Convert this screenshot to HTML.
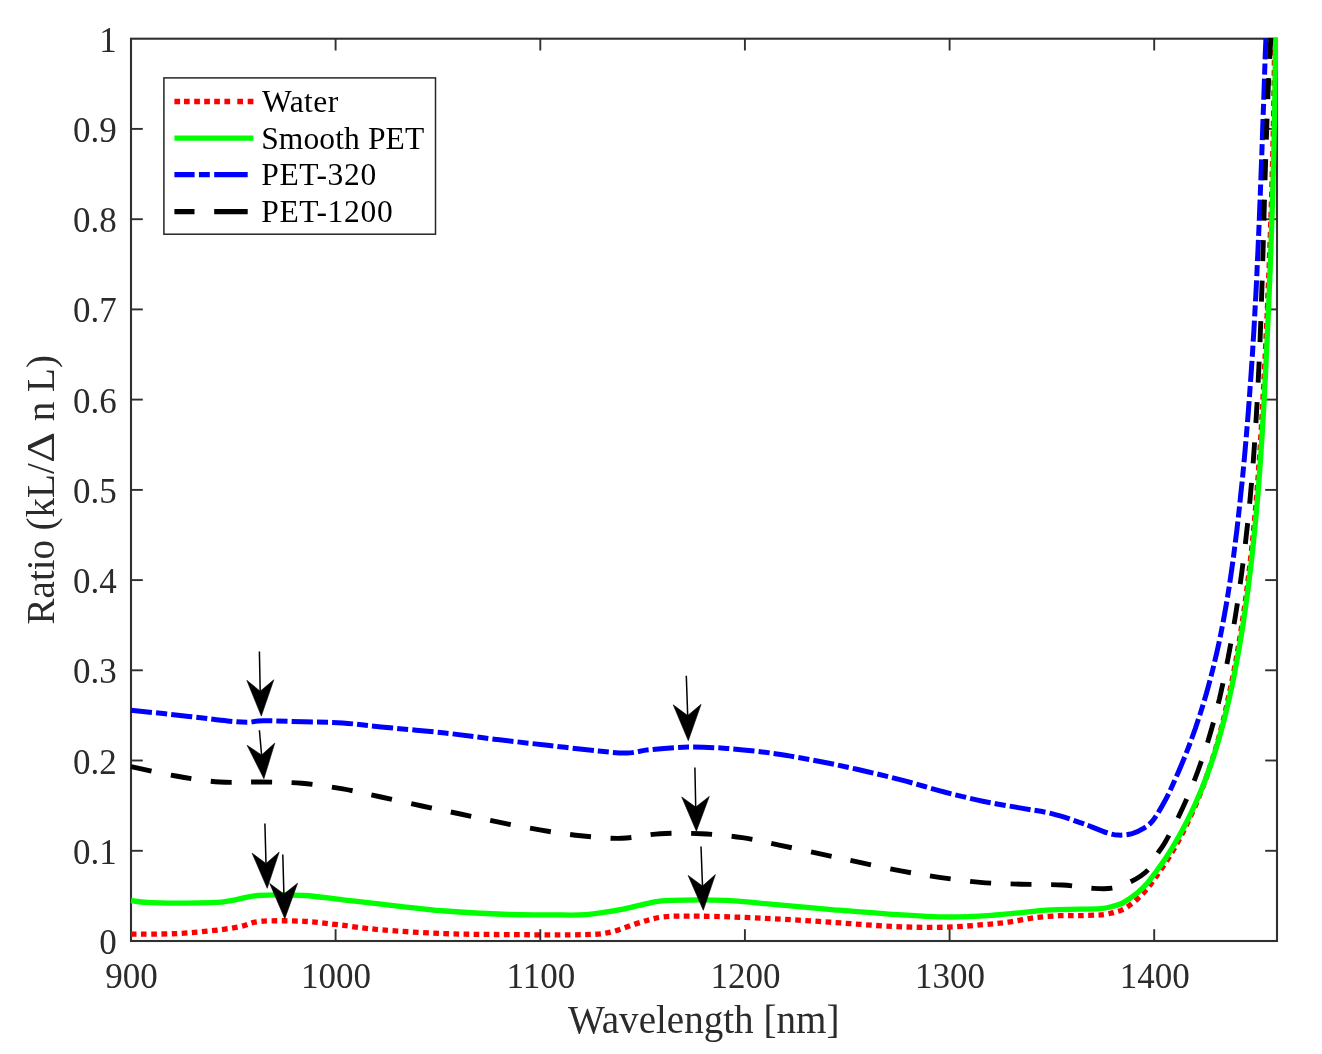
<!DOCTYPE html>
<html><head><meta charset="utf-8"><title>Ratio vs Wavelength</title>
<style>
html,body{margin:0;padding:0;background:#fff;}
body{width:1322px;height:1054px;overflow:hidden;}
svg{display:block;will-change:transform;}
text{font-family:"Liberation Serif",serif;fill:#2b2b2b;}
</style></head><body>
<svg width="1322" height="1054" viewBox="0 0 1322 1054">
<rect x="0" y="0" width="1322" height="1054" fill="#fff"/>
<defs><clipPath id="pc"><rect x="130.0" y="37.7" width="1148.0" height="904.3"/></clipPath></defs>
<rect x="131.0" y="38.7" width="1146.0" height="902.3" stroke="#303030" stroke-width="2.1" fill="none"/>
<g stroke="#303030" stroke-width="1.9" fill="none" stroke-linecap="butt">
<path d="M335.6 38.7v11.8"/>
<path d="M540.3 38.7v11.8"/>
<path d="M744.9 38.7v11.8"/>
<path d="M949.6 38.7v11.8"/>
<path d="M1154.2 38.7v11.8"/>
<path d="M1277.0 850.8h-11.8"/>
<path d="M1277.0 760.5h-11.8"/>
<path d="M1277.0 670.3h-11.8"/>
<path d="M1277.0 580.1h-11.8"/>
<path d="M1277.0 489.9h-11.8"/>
<path d="M1277.0 399.6h-11.8"/>
<path d="M1277.0 309.4h-11.8"/>
<path d="M1277.0 219.2h-11.8"/>
<path d="M1277.0 128.9h-11.8"/>
</g>
<g clip-path="url(#pc)" fill="none" stroke-linejoin="round">
<path d="M131.0 934.2C138.5 934.1 162.1 934.2 176.0 933.6C189.9 933.0 204.0 931.6 214.7 930.4C225.4 929.2 232.3 928.1 240.0 926.6C247.7 925.1 250.1 922.2 260.8 921.3C271.5 920.4 291.2 920.7 304.0 921.3C316.8 921.9 324.9 923.3 337.7 924.7C350.5 926.1 363.1 928.3 381.0 929.8C398.9 931.3 423.7 932.8 445.0 933.6C466.3 934.4 485.5 934.4 509.0 934.6C532.5 934.8 568.9 935.1 586.0 934.6C603.1 934.1 603.0 933.8 611.5 931.9C620.0 930.0 628.7 925.9 637.2 923.4C645.8 920.9 652.1 918.2 662.8 917.0C673.5 915.8 684.2 916.0 701.2 916.2C718.2 916.4 743.7 917.3 765.0 918.3C786.3 919.3 807.6 920.7 829.0 922.1C850.4 923.5 873.9 925.6 893.1 926.5C912.3 927.4 929.3 927.5 944.3 927.2C959.2 926.9 972.1 925.6 982.8 924.7C993.5 923.9 999.9 923.2 1008.4 922.1C1016.9 921.0 1025.5 918.9 1034.0 917.8C1042.5 916.7 1051.9 916.1 1059.6 915.7C1067.3 915.3 1073.8 915.7 1080.0 915.6C1086.2 915.5 1092.7 915.3 1097.0 915.1C1101.2 914.9 1102.9 914.7 1105.3 914.4C1107.6 914.1 1109.2 913.6 1110.9 913.2C1112.7 912.8 1114.1 912.4 1115.7 911.9C1117.4 911.5 1119.1 911.0 1120.8 910.4C1122.5 909.7 1124.4 908.8 1126.0 907.8C1127.6 906.9 1129.1 905.7 1130.5 904.6C1131.9 903.6 1133.2 902.5 1134.6 901.4C1136.0 900.2 1137.5 899.0 1138.8 897.6C1140.2 896.3 1141.5 894.8 1142.9 893.4C1144.3 891.9 1145.7 890.5 1147.0 888.9C1148.4 887.3 1149.8 885.4 1151.1 883.6C1152.5 881.8 1153.8 879.9 1155.2 877.9C1156.7 875.8 1158.2 873.6 1159.8 871.2C1161.5 868.8 1163.3 866.2 1165.1 863.5C1166.9 860.8 1168.7 857.9 1170.5 854.9C1172.3 851.9 1174.2 848.7 1175.9 845.6C1177.6 842.5 1179.3 839.4 1180.9 836.4C1182.5 833.3 1184.0 830.2 1185.5 827.1C1187.0 824.1 1188.4 821.0 1189.8 818.0C1191.2 814.9 1192.6 811.9 1193.9 808.9C1195.3 805.8 1196.6 802.8 1197.8 799.8C1199.0 796.7 1200.2 793.7 1201.4 790.7C1202.6 787.6 1203.7 784.6 1204.8 781.6C1205.9 778.5 1206.9 775.5 1208.0 772.5C1209.0 769.5 1210.0 766.5 1211.0 763.5C1212.0 760.4 1212.9 757.4 1213.9 754.4C1214.8 751.4 1215.7 748.4 1216.6 745.4C1217.4 742.4 1218.3 739.4 1219.1 736.4C1219.9 733.4 1220.7 730.3 1221.5 727.3C1222.2 724.3 1223.0 721.3 1223.7 718.3C1224.4 715.3 1225.1 712.3 1225.8 709.3C1226.5 706.3 1227.1 703.3 1227.8 700.3C1228.5 697.3 1229.1 694.3 1229.8 691.3C1230.4 688.3 1231.1 685.3 1231.7 682.3C1232.3 679.3 1232.9 676.3 1233.5 673.3C1234.1 670.3 1234.6 667.3 1235.2 664.3C1235.8 661.3 1236.3 658.3 1236.8 655.3C1237.4 652.3 1237.9 649.3 1238.4 646.3C1238.9 643.3 1239.4 640.3 1239.9 637.3C1240.4 634.3 1240.9 631.3 1241.3 628.3C1241.8 625.3 1242.3 622.3 1242.7 619.3C1243.2 616.3 1243.6 613.3 1244.0 610.3C1244.5 607.4 1244.9 604.4 1245.3 601.4C1245.7 598.4 1246.1 595.4 1246.5 592.4C1246.9 589.4 1247.3 586.4 1247.7 583.4C1248.0 580.4 1248.4 577.4 1248.8 574.4C1249.1 571.4 1249.5 568.4 1249.8 565.4C1250.2 562.4 1250.5 559.4 1250.9 556.4C1251.2 553.4 1251.5 550.4 1251.8 547.4C1252.1 544.4 1252.5 541.4 1252.8 538.4C1253.1 535.4 1253.4 532.4 1253.6 529.4C1253.9 526.4 1254.2 523.4 1254.5 520.4C1254.8 517.4 1255.0 514.4 1255.3 511.4C1255.6 508.4 1255.8 505.4 1256.1 502.4C1256.3 499.4 1256.6 496.4 1256.8 493.4C1257.1 490.4 1257.3 487.4 1257.5 484.4C1257.8 481.4 1258.0 478.4 1258.2 475.4C1258.4 472.4 1258.6 469.4 1258.8 466.4C1259.1 463.4 1259.3 460.4 1259.5 457.4C1259.7 454.4 1259.9 451.4 1260.1 448.4C1260.3 445.4 1260.5 442.4 1260.6 439.4C1260.8 436.4 1261.0 433.4 1261.2 430.4C1261.4 427.4 1261.5 424.4 1261.7 421.4C1261.9 418.4 1262.1 415.4 1262.2 412.4C1262.4 409.4 1262.6 406.4 1262.7 403.4C1262.9 400.4 1263.0 397.4 1263.2 394.4C1263.4 391.4 1263.5 388.4 1263.7 385.4C1263.8 382.4 1264.0 379.4 1264.1 376.4C1264.3 373.4 1264.5 370.4 1264.6 367.4C1264.8 364.4 1264.9 361.4 1265.1 358.4C1265.2 355.4 1265.3 352.4 1265.5 349.4C1265.6 346.4 1265.8 343.4 1265.9 340.4C1266.1 337.4 1266.2 334.4 1266.3 331.4C1266.5 328.4 1266.6 325.4 1266.8 322.4C1266.9 319.4 1267.0 316.5 1267.2 313.5C1267.3 310.5 1267.4 307.5 1267.6 304.5C1267.7 301.5 1267.8 298.5 1267.9 295.5C1268.1 292.5 1268.2 289.5 1268.3 286.5C1268.5 283.5 1268.6 280.5 1268.7 277.5C1268.8 274.5 1268.9 271.5 1269.1 268.5C1269.2 265.5 1269.3 262.5 1269.4 259.5C1269.5 256.5 1269.6 253.5 1269.7 250.5C1269.9 247.5 1270.0 244.5 1270.1 241.5C1270.2 238.5 1270.3 235.5 1270.4 232.5C1270.5 229.5 1270.6 226.5 1270.7 223.5C1270.8 220.5 1270.9 217.5 1271.0 214.5C1271.1 211.5 1271.2 208.5 1271.3 205.5C1271.4 202.5 1271.5 199.5 1271.6 196.5C1271.7 193.5 1271.8 190.5 1271.8 187.5C1271.9 184.5 1272.0 181.5 1272.1 178.5C1272.2 175.5 1272.3 172.5 1272.3 169.5C1272.4 166.5 1272.5 163.5 1272.6 160.5C1272.7 157.5 1272.7 154.5 1272.8 151.5C1272.9 148.5 1272.9 145.5 1273.0 142.5C1273.1 139.5 1273.2 136.5 1273.2 133.5C1273.3 130.5 1273.3 127.5 1273.4 124.5C1273.5 121.5 1273.5 118.5 1273.6 115.5C1273.6 112.5 1273.7 109.5 1273.7 106.5C1273.8 103.5 1273.8 100.5 1273.9 97.5C1273.9 94.5 1274.0 91.5 1274.0 88.5C1274.1 85.5 1274.1 82.5 1274.2 79.5C1274.2 76.5 1274.2 73.5 1274.3 70.5C1274.3 67.5 1274.3 64.5 1274.4 61.5C1274.4 58.5 1274.4 55.5 1274.5 52.5C1274.5 49.5 1274.5 46.4 1274.5 43.3C1274.6 40.2 1274.6 36.7 1274.6 33.9C1274.6 31.2 1274.6 28.8 1274.6 26.7C1274.6 24.6 1274.6 22.5 1274.6 21.6" stroke="#ff0000" stroke-width="5.3" stroke-dasharray="5.65 4.48"/>
<path d="M131.0 900.5C134.3 900.9 137.1 902.2 150.6 902.6C164.1 903.0 197.9 903.2 212.0 902.7C226.1 902.2 227.3 901.0 235.0 899.8C242.7 898.6 246.5 896.2 258.0 895.5C269.5 894.8 289.9 894.8 304.0 895.5C318.1 896.2 330.0 898.4 342.8 899.8C355.6 901.2 364.0 902.2 381.0 904.1C398.0 906.0 423.7 909.3 445.0 911.0C466.3 912.7 491.5 913.9 509.0 914.5C526.5 915.1 537.2 914.8 550.0 914.8C562.8 914.8 573.6 915.6 586.0 914.6C598.4 913.6 613.7 910.8 624.4 908.8C635.1 906.8 642.3 904.3 650.0 902.9C657.7 901.5 657.7 900.7 670.5 900.3C683.3 899.9 711.0 899.7 726.8 900.3C742.5 900.9 748.0 902.2 765.0 903.7C782.0 905.2 807.6 907.5 829.0 909.3C850.4 911.1 873.0 913.1 893.1 914.4C913.2 915.7 932.4 916.9 949.5 917.0C966.6 917.1 979.4 916.1 995.6 915.0C1011.8 913.9 1032.7 911.1 1046.8 910.1C1060.9 909.1 1071.0 909.5 1080.0 909.2C1089.0 909.0 1095.6 909.0 1100.9 908.6C1106.2 908.2 1108.5 907.4 1111.8 906.6C1115.1 905.8 1118.0 905.1 1121.0 903.8C1124.0 902.5 1126.7 900.5 1129.5 898.6C1132.3 896.7 1135.2 894.6 1138.1 892.2C1140.9 889.8 1143.8 887.3 1146.6 884.1C1149.4 880.9 1151.9 877.4 1155.1 873.0C1158.3 868.6 1162.2 863.5 1165.8 858.0C1169.5 852.5 1173.4 846.0 1176.8 840.0C1180.3 834.0 1183.5 828.0 1186.6 822.0C1189.6 816.0 1192.5 810.0 1195.2 804.0C1197.9 798.0 1200.5 792.0 1202.9 786.0C1205.3 780.0 1207.5 774.0 1209.6 768.0C1211.7 762.0 1213.7 756.0 1215.6 750.0C1217.4 744.0 1219.2 738.0 1220.8 732.0C1222.5 726.0 1224.1 720.0 1225.6 714.0C1227.0 708.0 1228.4 702.0 1229.8 696.0C1231.1 690.0 1232.4 684.0 1233.6 678.0C1234.8 672.0 1235.9 666.0 1237.0 660.0C1238.1 654.0 1239.2 648.0 1240.2 642.0C1241.2 636.0 1242.1 630.0 1243.1 624.0C1244.0 618.0 1244.9 612.0 1245.7 606.0C1246.6 600.0 1247.4 594.0 1248.2 588.0C1248.9 582.0 1249.7 576.0 1250.4 570.0C1251.1 564.0 1251.8 558.0 1252.4 552.0C1253.1 546.0 1253.7 540.0 1254.3 534.0C1254.9 528.0 1255.5 522.0 1256.0 516.0C1256.6 510.0 1257.1 504.0 1257.6 498.0C1258.1 492.0 1258.6 486.0 1259.0 480.0C1259.5 474.0 1259.9 468.0 1260.3 462.0C1260.7 456.0 1261.1 450.0 1261.5 444.0C1261.9 438.0 1262.3 432.0 1262.6 426.0C1263.0 420.0 1263.3 414.0 1263.7 408.0C1264.0 402.0 1264.3 396.0 1264.6 390.0C1264.9 384.0 1265.3 378.0 1265.6 372.0C1265.9 366.0 1266.1 360.0 1266.4 354.0C1266.7 348.0 1267.0 342.0 1267.3 336.0C1267.6 330.0 1267.8 324.0 1268.1 318.0C1268.4 312.0 1268.6 306.0 1268.9 300.0C1269.1 294.0 1269.4 288.0 1269.6 282.0C1269.9 276.0 1270.1 270.0 1270.3 264.0C1270.5 258.0 1270.8 252.0 1271.0 246.0C1271.2 240.0 1271.4 234.0 1271.6 228.0C1271.8 222.0 1272.0 216.0 1272.2 210.0C1272.4 204.0 1272.6 198.0 1272.7 192.0C1272.9 186.0 1273.1 180.0 1273.2 174.0C1273.4 168.0 1273.5 162.0 1273.7 156.0C1273.8 150.0 1274.0 144.0 1274.1 138.0C1274.2 132.0 1274.3 126.0 1274.5 120.0C1274.6 114.0 1274.7 108.0 1274.8 102.0C1274.9 96.0 1275.0 90.0 1275.0 84.0C1275.1 78.0 1275.2 72.0 1275.3 66.0C1275.3 60.0 1275.4 54.0 1275.4 48.0C1275.5 42.0 1275.5 34.7 1275.5 30.0C1275.5 25.3 1275.5 21.7 1275.6 20.0" stroke="#00ff00" stroke-width="5.3"/>
<path d="M131.0 710.2C140.7 711.2 172.9 714.6 189.0 716.4C205.1 718.2 217.7 720.0 227.5 721.0C237.3 722.0 242.1 722.3 248.0 722.3C253.9 722.2 253.7 720.8 263.0 720.7C272.3 720.6 290.7 721.4 304.0 721.8C317.3 722.2 330.0 722.1 342.8 723.0C355.6 723.9 364.0 725.2 381.0 726.9C398.0 728.6 425.8 730.9 445.0 733.0C464.2 735.1 479.1 737.4 496.2 739.4C513.3 741.4 530.4 743.4 547.5 745.3C564.6 747.2 585.5 749.7 598.7 751.0C611.9 752.3 618.4 753.2 626.9 753.0C635.4 752.8 639.8 750.7 650.0 749.7C660.2 748.7 675.6 747.3 688.4 747.1C701.2 746.9 714.0 747.5 726.8 748.4C739.6 749.3 754.4 751.0 765.0 752.3C775.6 753.6 779.9 754.3 790.6 756.1C801.3 757.9 816.2 760.7 829.0 763.3C841.8 765.9 854.7 768.7 867.5 771.7C880.3 774.7 893.1 777.8 905.9 781.2C918.7 784.6 931.5 788.7 944.3 792.0C957.1 795.3 970.0 798.5 982.8 801.2C995.6 803.9 1010.5 806.2 1021.2 808.1C1031.9 810.0 1039.5 811.0 1046.8 812.5C1054.1 814.0 1059.5 815.7 1065.0 817.4C1070.5 819.1 1075.8 821.1 1080.0 822.6C1084.2 824.1 1086.1 824.6 1090.4 826.3C1094.8 827.9 1101.4 831.0 1106.1 832.5C1110.8 834.0 1114.2 834.9 1118.6 835.1C1122.9 835.3 1128.2 834.6 1132.2 833.6C1136.2 832.6 1139.1 831.1 1142.6 828.9C1146.1 826.7 1149.2 825.2 1153.0 820.4C1156.8 815.6 1161.9 806.4 1165.4 800.0C1168.9 793.6 1171.3 788.0 1174.0 782.0C1176.7 776.0 1179.3 770.0 1181.8 764.0C1184.3 758.0 1186.7 752.0 1189.0 746.0C1191.2 740.0 1193.4 734.0 1195.5 728.0C1197.5 722.0 1199.5 716.0 1201.4 710.0C1203.3 704.0 1205.1 698.0 1206.8 692.0C1208.5 686.0 1210.1 680.0 1211.6 674.0C1213.2 668.0 1214.6 662.0 1216.0 656.0C1217.4 650.0 1218.7 644.0 1220.0 638.0C1221.2 632.0 1222.4 626.0 1223.5 620.0C1224.6 614.0 1225.7 608.0 1226.7 602.0C1227.7 596.0 1228.7 590.0 1229.6 584.0C1230.5 578.0 1231.4 572.0 1232.2 566.0C1233.1 560.0 1233.9 554.0 1234.6 548.0C1235.4 542.0 1236.1 536.0 1236.9 530.0C1237.6 524.0 1238.2 518.0 1238.9 512.0C1239.6 506.0 1240.2 500.0 1240.8 494.0C1241.5 488.0 1242.1 482.0 1242.7 476.0C1243.3 470.0 1243.8 464.0 1244.4 458.0C1244.9 452.0 1245.5 446.0 1246.0 440.0C1246.5 434.0 1247.0 428.0 1247.5 422.0C1248.0 416.0 1248.5 410.0 1248.9 404.0C1249.4 398.0 1249.8 392.0 1250.2 386.0C1250.7 380.0 1251.1 374.0 1251.5 368.0C1251.9 362.0 1252.3 356.0 1252.7 350.0C1253.0 344.0 1253.4 338.0 1253.8 332.0C1254.1 326.0 1254.5 320.0 1254.8 314.0C1255.1 308.0 1255.4 302.0 1255.8 296.0C1256.1 290.0 1256.4 284.0 1256.7 278.0C1257.0 272.0 1257.2 266.0 1257.5 260.0C1257.8 254.0 1258.1 248.0 1258.3 242.0C1258.6 236.0 1258.9 230.0 1259.1 224.0C1259.4 218.0 1259.6 212.0 1259.8 206.0C1260.1 200.0 1260.3 194.0 1260.5 188.0C1260.8 182.0 1261.0 176.0 1261.2 170.0C1261.4 164.0 1261.7 158.0 1261.9 152.0C1262.1 146.0 1262.3 140.0 1262.5 134.0C1262.7 128.0 1262.9 122.0 1263.1 116.0C1263.4 110.0 1263.6 104.0 1263.8 98.0C1264.0 92.0 1264.2 86.0 1264.4 80.0C1264.6 74.0 1264.8 68.0 1265.0 62.0C1265.2 56.0 1265.4 50.0 1265.7 44.0C1265.9 38.0 1266.2 30.0 1266.3 26.0C1266.5 22.0 1266.5 21.0 1266.5 20.0" stroke="#0000ff" stroke-width="5.0" stroke-dasharray="21.1 4.1 11.05 4.1"/>
<path d="M131.0 766.6C138.5 768.2 161.2 773.4 176.0 776.0C190.8 778.6 205.7 781.0 219.8 782.0C233.9 783.0 247.1 781.8 260.8 782.0C274.5 782.2 288.1 782.1 301.8 783.3C315.5 784.4 329.6 786.6 342.8 788.9C356.0 791.2 367.8 794.1 381.0 797.0C394.2 799.9 408.8 803.2 422.0 806.0C435.2 808.8 447.6 811.3 460.4 814.0C473.2 816.7 485.6 819.6 498.8 822.2C512.0 824.9 526.1 827.6 539.8 829.9C553.5 832.2 567.1 834.4 580.8 835.8C594.5 837.2 608.6 838.6 621.8 838.3C635.0 837.9 647.0 834.5 660.2 833.7C673.4 832.9 687.5 833.1 701.2 833.7C714.9 834.4 729.0 835.7 742.2 837.6C755.4 839.5 767.2 842.5 780.4 845.3C793.6 848.1 808.2 851.4 821.4 854.2C834.6 857.1 846.6 859.6 859.8 862.4C873.0 865.2 887.6 868.4 900.8 870.9C914.0 873.4 926.0 875.4 939.2 877.3C952.4 879.2 966.5 881.2 980.2 882.4C993.9 883.5 1007.5 883.8 1021.2 884.2C1034.9 884.6 1050.5 884.3 1062.2 885.0C1073.9 885.7 1083.2 887.7 1091.5 888.2C1099.8 888.7 1105.4 889.2 1111.8 888.2C1118.2 887.2 1124.1 885.1 1130.1 882.1C1136.1 879.1 1143.2 874.9 1147.8 870.1C1152.4 865.3 1154.9 857.9 1157.7 853.4C1160.5 848.9 1162.0 847.7 1164.7 843.0C1167.5 838.3 1171.3 831.0 1174.4 825.0C1177.5 819.0 1180.3 813.0 1183.1 807.0C1185.8 801.0 1188.4 795.0 1190.9 789.0C1193.4 783.0 1195.7 777.0 1197.9 771.0C1200.1 765.0 1202.2 759.0 1204.2 753.0C1206.2 747.0 1208.1 741.0 1209.8 735.0C1211.6 729.0 1213.3 723.0 1214.9 717.0C1216.4 711.0 1217.9 705.0 1219.4 699.0C1220.8 693.0 1222.1 687.0 1223.4 681.0C1224.7 675.0 1225.9 669.0 1227.1 663.0C1228.3 657.0 1229.4 651.0 1230.5 645.0C1231.6 639.0 1232.6 633.0 1233.6 627.0C1234.6 621.0 1235.6 615.0 1236.5 609.0C1237.5 603.0 1238.4 597.0 1239.2 591.0C1240.1 585.0 1240.9 579.0 1241.7 573.0C1242.5 567.0 1243.3 561.0 1244.0 555.0C1244.8 549.0 1245.5 543.0 1246.1 537.0C1246.8 531.0 1247.5 525.0 1248.1 519.0C1248.7 513.0 1249.3 507.0 1249.9 501.0C1250.4 495.0 1251.0 489.0 1251.5 483.0C1252.0 477.0 1252.5 471.0 1253.0 465.0C1253.4 459.0 1253.9 453.0 1254.3 447.0C1254.7 441.0 1255.1 435.0 1255.5 429.0C1255.9 423.0 1256.3 417.0 1256.6 411.0C1257.0 405.0 1257.3 399.0 1257.6 393.0C1257.9 387.0 1258.2 381.0 1258.5 375.0C1258.8 369.0 1259.1 363.0 1259.4 357.0C1259.6 351.0 1259.9 345.0 1260.1 339.0C1260.3 333.0 1260.6 327.0 1260.8 321.0C1261.0 315.0 1261.2 309.0 1261.4 303.0C1261.6 297.0 1261.8 291.0 1262.0 285.0C1262.2 279.0 1262.4 273.0 1262.6 267.0C1262.7 261.0 1262.9 255.0 1263.1 249.0C1263.3 243.0 1263.4 237.0 1263.6 231.0C1263.8 225.0 1263.9 219.0 1264.1 213.0C1264.3 207.0 1264.4 201.0 1264.6 195.0C1264.8 189.0 1265.0 183.0 1265.1 177.0C1265.3 171.0 1265.5 165.0 1265.7 159.0C1265.9 153.0 1266.1 147.0 1266.3 141.0C1266.5 135.0 1266.7 129.0 1266.9 123.0C1267.1 117.0 1267.4 111.0 1267.6 105.0C1267.8 99.0 1268.1 93.0 1268.3 87.0C1268.6 81.0 1268.9 75.0 1269.2 69.0C1269.5 63.0 1269.8 57.0 1270.1 51.0C1270.4 45.0 1270.8 38.2 1271.1 33.0C1271.4 27.8 1271.7 22.2 1271.9 20.0" stroke="#000000" stroke-width="4.9" stroke-dasharray="21 19.5"/>
</g>
<g stroke="#303030" stroke-width="1.9" fill="none" stroke-linecap="butt">
<path d="M335.6 941.0v-11.8"/>
<path d="M540.3 941.0v-11.8"/>
<path d="M744.9 941.0v-11.8"/>
<path d="M949.6 941.0v-11.8"/>
<path d="M1154.2 941.0v-11.8"/>
<path d="M131.0 850.8h11.8"/>
<path d="M131.0 760.5h11.8"/>
<path d="M131.0 670.3h11.8"/>
<path d="M131.0 580.1h11.8"/>
<path d="M131.0 489.9h11.8"/>
<path d="M131.0 399.6h11.8"/>
<path d="M131.0 309.4h11.8"/>
<path d="M131.0 219.2h11.8"/>
<path d="M131.0 128.9h11.8"/>
</g>
<g stroke="#000" fill="#000" stroke-width="1.5" stroke-linejoin="miter">
<path d="M259.4 651.4L260.2 691.2" fill="none"/><path d="M261.3 716.1L246.8 680.3L260.2 691.2L273.8 679.8Z" stroke-width="0.6"/>
<path d="M259.4 730.3L261.6 755.0" fill="none"/><path d="M263.9 778.7L247.1 745.3L261.6 755.0L274.8 743.1Z" stroke-width="0.6"/>
<path d="M264.9 823.4L266.0 863.5" fill="none"/><path d="M267.2 888.3L252.1 853.2L266.0 863.5L279.2 852.1Z" stroke-width="0.6"/>
<path d="M282.8 854.6L283.9 894.0" fill="none"/><path d="M284.8 918.7L269.7 883.4L283.9 894.0L297.6 883.2Z" stroke-width="0.6"/>
<path d="M686.3 675.8L687.7 715.6" fill="none"/><path d="M688.3 740.7L673.2 704.8L687.7 715.6L701.1 704.3Z" stroke-width="0.6"/>
<path d="M694.9 767.6L695.7 807.1" fill="none"/><path d="M696.4 831.3L681.7 796.9L695.7 807.1L709.3 796.4Z" stroke-width="0.6"/>
<path d="M701.0 846.5L702.5 886.0" fill="none"/><path d="M703.3 910.3L688.1 875.4L702.5 886.0L715.4 874.6Z" stroke-width="0.6"/>
</g>
<g font-size="35px" text-anchor="middle">
<text transform="translate(131.5,988.0) scale(1,1.045)">900</text>
<text transform="translate(336.1,988.0) scale(1,1.045)">1000</text>
<text transform="translate(540.8,988.0) scale(1,1.045)">1100</text>
<text transform="translate(745.4,988.0) scale(1,1.045)">1200</text>
<text transform="translate(950.1,988.0) scale(1,1.045)">1300</text>
<text transform="translate(1154.7,988.0) scale(1,1.045)">1400</text>
</g>
<g font-size="35px" text-anchor="end">
<text transform="translate(116.8,954.0) scale(1,1.045)">0</text>
<text transform="translate(116.8,863.8) scale(1,1.045)">0.1</text>
<text transform="translate(116.8,773.5) scale(1,1.045)">0.2</text>
<text transform="translate(116.8,683.3) scale(1,1.045)">0.3</text>
<text transform="translate(116.8,593.1) scale(1,1.045)">0.4</text>
<text transform="translate(116.8,502.9) scale(1,1.045)">0.5</text>
<text transform="translate(116.8,412.6) scale(1,1.045)">0.6</text>
<text transform="translate(116.8,322.4) scale(1,1.045)">0.7</text>
<text transform="translate(116.8,232.2) scale(1,1.045)">0.8</text>
<text transform="translate(116.8,141.9) scale(1,1.045)">0.9</text>
<text transform="translate(116.8,51.7) scale(1,1.045)">1</text>
</g>
<text x="703.7" y="1032.6" font-size="39.1px" text-anchor="middle">Wavelength [nm]</text>
<g font-size="39.1px">
<text transform="translate(54.2,624.5) rotate(-90)">Ratio</text>
<text transform="translate(54.2,530.5) rotate(-90)">(kL/</text>
<text transform="translate(54.2,462.8) rotate(-90) scale(1.23,1.04)">Δ</text>
<text transform="translate(54.2,421.2) rotate(-90)">n L)</text>
</g>
<rect x="163.9" y="77.9" width="271.6" height="156.3" fill="#fff" stroke="#262626" stroke-width="1.5"/>
<g fill="none" stroke-width="5.3">
<path d="M174.4 101.5h5.7M184.0 101.5h5.7M194.2 101.5h5.7M204.2 101.5h5.7M214.2 101.5h5.7M224.4 101.5h5.7M237.3 101.5h5.7M247.7 101.5h5.7" stroke="#ff0000"/>
<path d="M174.4 138.1H253.4" stroke="#00ff00"/>
<path d="M174.4 174.6H194.6M198.9 174.6H209.8M214.2 174.6H247.7" stroke="#0000ff"/>
<path d="M174.4 211.6H194.5M214.2 211.6H247.7" stroke="#000"/>
</g>
<g font-size="31.5px">
<text x="262.0" y="112.3" textLength="76.2" lengthAdjust="spacing" style="fill:#000">Water</text>
<text x="261.2" y="148.9" textLength="163.0" lengthAdjust="spacing" style="fill:#000">Smooth PET</text>
<text x="261.2" y="185.4" textLength="115.0" lengthAdjust="spacing" style="fill:#000">PET-320</text>
<text x="261.2" y="222.4" textLength="131.5" lengthAdjust="spacing" style="fill:#000">PET-1200</text>
</g>
</svg>
</body></html>
